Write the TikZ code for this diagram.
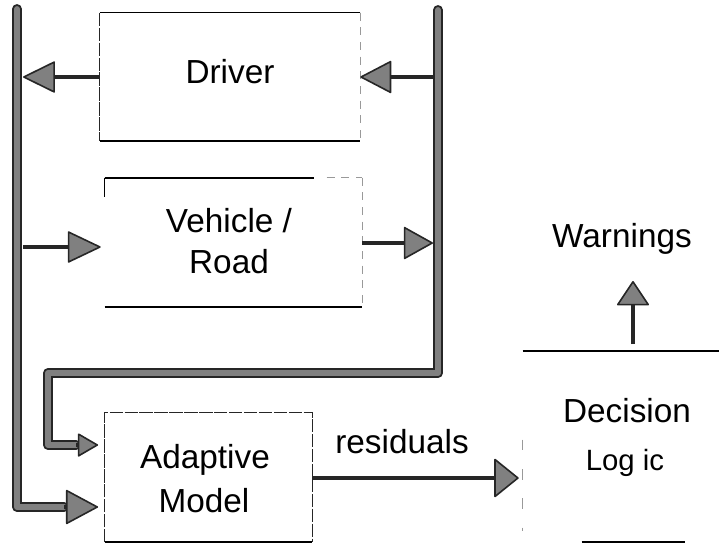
\documentclass[tikz,border=0pt]{standalone}
\usepackage{fontspec}
\setmainfont{Liberation Sans}
\usetikzlibrary{arrows.meta,calc}
\begin{document}
\begin{tikzpicture}[x=0.75pt,y=-0.75pt,
  bus/.style={draw=black!85,line width=1.5pt,double=black!50,double distance=4.4pt,line join=round,line cap=round},
  conn/.style={draw=black!85,line width=2.5pt},
  hd/.style 2 args={-{Triangle[length=#1,width=#2,fill=black!50,line width=1.2pt,round]}},
  blk/.style 2 args={rectangle,inner sep=0pt,minimum width=#1,minimum height=#2},
  txt/.style={font=\fontsize{25}{30}\selectfont,inner sep=0pt,anchor=base},
  edge/.style={draw=black,line width=0.8pt},
  edgeB/.style={draw=black,line width=1.5pt},
  thind/.style={draw=black!85,line width=0.7pt,dash pattern=on 10pt off 1.2pt},
  faint/.style={draw=black!40,line width=0.8pt,dash pattern=on 6pt off 5pt}]
\path[use as bounding box,fill=white] (0,0) rectangle (719,544);

% boxes (borders drawn separately)
\node[blk={195pt}{96pt}] (driver) at (230,77) {};
\node[blk={192.75pt}{96.75pt}] (veh) at (233.5,242.5) {};
\node[blk={155.25pt}{96.75pt}] (adapt) at (208.5,477.5) {};
\node[blk={147pt}{143.25pt}] (dl) at (621,446.5) {};

% texts
\node[txt] (tDriver) at (230,83) {Driver};
\node[txt] (tVeh) at (229,232) {Vehicle /};
\node[txt] (tRoad) at (229,273) {Road};
\node[txt] (tAd) at (205,468) {Adaptive};
\node[txt] (tMo) at (204,512) {Model};
\node[txt] (tRes) at (402,453) {residuals};
\node[txt] (tDec) at (627,422) {Decision};
\node[txt,font=\fontsize{22}{26}\selectfont] (tLog) at (625,470) {Log ic};
\node[txt] (tWarn) at (622,247) {Warnings};

% Driver borders
\draw[edge] (driver.north east) -- (driver.north west);
\draw[thind] (driver.north west) -- (driver.south west);
\draw[edgeB] (driver.south west) -- (driver.south east);
\draw[faint] (driver.north east) -- (driver.south east);

% Vehicle borders
\draw[edgeB] (veh.north west) -- ($(veh.north west)+(209,0)$);
\draw[faint] ($(veh.north west)+(222,0)$) -- (veh.north east);
\draw[edge] (veh.north west) -- ($(veh.north west)+(0,19)$);
\draw[edgeB] (veh.south west) -- (veh.south east);
\draw[faint] (veh.north east) -- (veh.south east);

% Adaptive model borders
\draw[thind] (adapt.south west) -- (adapt.north west) -- (adapt.north east) -- (adapt.south east);
\draw[edgeB] (adapt.south west) -- (adapt.south east);

% Decision logic borders
\draw[line width=1.6pt] (dl.north west) -- (dl.north east);
\draw[faint,dash pattern=on 8pt off 14pt] ($(dl.north west)+(0,89)$) -- ($(dl.north west)+(0,180)$);
\draw[line width=1.4pt] ($(dl.south west)+(59,0)$) -- ($(dl.south west)+(162,0)$);

% buses
\coordinate (lbT) at (17,9);
\coordinate (lbB) at (17,507);
\coordinate (lbE) at (64,507);
\coordinate (rbT) at (438,10);
\coordinate (rbC) at (438,373);
\coordinate (ibC) at (48,373);
\coordinate (ibB) at (48,445);
\coordinate (ibE) at (76,445);
\coordinate (lbR) at (23,0);
\coordinate (rbL) at (433,0);
\draw[bus] (lbT) -- (lbB) -- (lbE);
\draw[bus] (rbT) -- (rbC) -- (ibC) -- (ibB) -- (ibE);

% connectors
\coordinate (a3) at (23,247);
\coordinate (a4) at (433,243);
\coordinate (r7) at (315,478);
\coordinate (upx) at (633,0);
\coordinate (upE) at (633,281);
\draw[conn,hd={24.75pt}{24pt}] (driver.west) -- (lbR |- driver.west);
\draw[conn,hd={24pt}{24.75pt}] (rbL |- driver.east) -- (driver.east);
\draw[conn,hd={25.5pt}{24pt},shorten >=3pt] (a3) -- (veh.west |- a3);
\draw[conn,hd={22.5pt}{24.75pt}] (veh.east |- a4) -- (a4);
\draw[conn,hd={15.75pt}{18pt},shorten >=5pt] (ibE) -- (adapt.west |- ibE);
\draw[conn,hd={24.75pt}{26.25pt},shorten >=5pt] (lbE) -- (adapt.west |- lbE);
\draw[conn,line width=3.2pt,hd={18.75pt}{30pt},shorten >=3pt] (adapt.east |- r7) -- (dl.west |- r7);
\draw[conn,hd={18.75pt}{24.75pt},shorten <=5pt] (dl.north -| upx) -- (upE);
\end{tikzpicture}
\end{document}
